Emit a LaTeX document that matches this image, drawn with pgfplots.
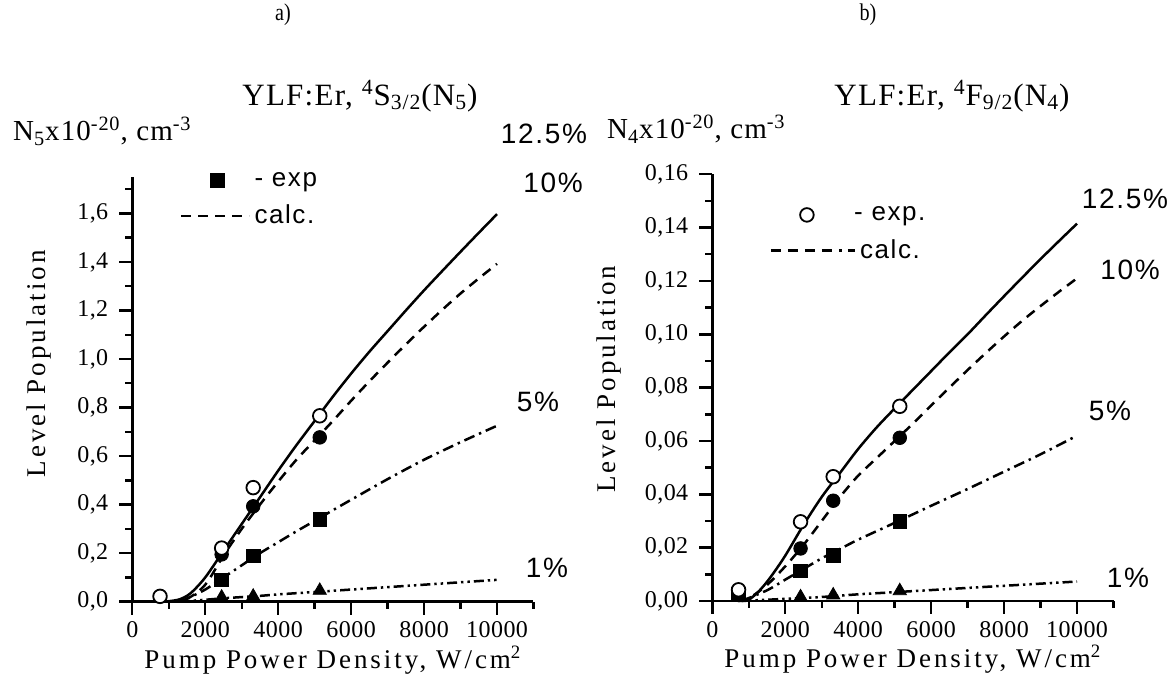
\documentclass[border=0pt]{standalone}
\usepackage{pgfplots}
\pgfplotsset{compat=1.18}
\usepackage{fontspec}
\setmainfont{Liberation Serif}
\newfontfamily\spserif[LetterSpace=11]{Liberation Serif}
\newfontfamily\tserif[LetterSpace=4]{Liberation Serif}
\newfontfamily\tickserif[LetterSpace=2]{Liberation Serif}
\newfontfamily\condserif[FakeStretch=0.84]{Liberation Serif}
\newfontfamily\spsans[LetterSpace=6]{Liberation Sans}

\pgfplotsset{
  panel/.style={
    scale only axis, width=200.6pt,
    axis x line*=bottom, axis y line*=left,
    axis line style={line width=1.4pt},
    every tick/.style={black, line width=1.2pt},
    tick align=outside,
    major tick length=6.5pt, minor tick length=3.5pt,
    xmin=0, xmax=11000,
    xtick={0,2000,4000,6000,8000,10000},
    minor xtick={1000,3000,5000,7000,9000,11000},
    scaled x ticks=false, scaled y ticks=false,
    tick label style={font=\fontsize{12}{12}\tickserif},
    y tick label style={xshift=-2pt},
    /pgf/number format/assume math mode=true,
    x tick label style={/pgf/number format/1000 sep={}},
    xlabel={\fontsize{13.5}{14}\spserif Pump Power Density, W/cm\textsuperscript{2}},
    ylabel={\fontsize{13.5}{14}\spserif Level Population},
    xlabel style={yshift=3pt},
    clip=false,
    legend style={draw=none, fill=none, font=\fontsize{13}{15}\spsans,
      row sep=4pt, legend cell align=left, inner xsep=0pt, inner ysep=0pt},
  },
  c125/.style={black, line width=1.25pt, solid, smooth},
  c10/.style={black, line width=1.25pt, smooth, dash pattern=on 5pt off 3.5pt},
  c5/.style={black, line width=1.25pt, smooth, dash pattern=on 5.5pt off 2.5pt on 1.2pt off 2.5pt},
  c1/.style={black, line width=1.25pt, smooth, dash pattern=on 5pt off 2pt on 1.2pt off 2pt on 1.2pt off 2pt},
  mo/.style={only marks, mark=*, mark size=3.4pt, mark options={fill=white, draw=black, line width=0.9pt}},
  mf/.style={only marks, mark=*, mark size=3.4pt, mark options={fill=black, draw=black}},
  ms/.style={only marks, mark=square*, mark size=3.4pt, mark options={fill=black, draw=black}},
  mt/.style={only marks, mark=triangle*, mark size=3.8pt, mark options={fill=black, draw=black}},
  legA/.style={legend image code/.code={\draw[mark repeat=2,mark phase=2,##1] plot coordinates {(0pt,0pt)(18pt,0pt)(34pt,0pt)};}},
  legB/.style={legend image code/.code={\draw[mark repeat=2,mark phase=2,##1] plot coordinates {(0pt,0pt)(18pt,0pt)(42pt,0pt)};}},
  calcline/.style={black, line width=1.25pt, dash pattern=on 5pt off 3.5pt on 5pt off 3.5pt on 5pt off 3.5pt on 5pt off 3.5pt on 1.5pt off 3pt},
}

\begin{document}
\begin{tikzpicture}
\path[use as bounding box] (0,0) rectangle (584.5pt,344.5pt);

% ---------- panel a ----------
\begin{axis}[panel, at={(66.15pt,43.65pt)}, anchor=south west,
  height=212.35pt, ymin=0, ymax=1.75,
  ytick={0,0.2,0.4,0.6,0.8,1.0,1.2,1.4,1.6},
  minor ytick={0.1,0.3,0.5,0.7,0.9,1.1,1.3,1.5,1.7},
  y tick label style={/pgf/number format/.cd, fixed, fixed zerofill, precision=1, use comma},
  ylabel style={at={(axis description cs:-0.185,0.56)}},
  legend style={at={(0.118,1.022)}, anchor=north west},
]
\addlegendimage{ms, legA}
\addlegendentry{- exp}
\addlegendimage{calcline, legA}
\addlegendentry{calc.}
\addplot[c125] coordinates {(800,0)(1000,0.002)(1300,0.01)(1600,0.035)(2000,0.10)(2500,0.21)(3000,0.32)(3500,0.43)(4000,0.54)(4500,0.645)(5000,0.745)(5500,0.845)(6000,0.94)(6500,1.03)(7000,1.115)(7500,1.2)(8000,1.283)(8500,1.363)(9000,1.442)(9500,1.52)(10000,1.597)};
\addplot[c10] coordinates {(1000,0)(1500,0.012)(2000,0.07)(2500,0.19)(3000,0.30)(3500,0.40)(4000,0.495)(4500,0.585)(5000,0.665)(5500,0.745)(6000,0.828)(6500,0.908)(7000,0.985)(7500,1.06)(8000,1.133)(8500,1.203)(9000,1.27)(9500,1.332)(10000,1.392)};
\addplot[c5] coordinates {(1300,0)(1600,0.02)(2000,0.05)(2500,0.10)(3000,0.15)(3500,0.20)(4000,0.245)(4500,0.29)(5000,0.333)(5500,0.377)(6000,0.42)(7000,0.505)(8000,0.585)(9000,0.657)(10000,0.725)};
\addplot[c1] coordinates {(1300,0)(2000,0.008)(2500,0.014)(3000,0.019)(3500,0.024)(4000,0.03)(5000,0.04)(6000,0.05)(7000,0.06)(8000,0.07)(9000,0.08)(10000,0.09)};
\addplot[mt] coordinates {(2450,0.018)(3315,0.022)(5140,0.046)};
\addplot[ms] coordinates {(2450,0.09)(3315,0.188)(5140,0.338)};
\addplot[mf] coordinates {(2450,0.195)(3315,0.393)(5140,0.677)};
\addplot[mo] coordinates {(760,0.022)(2450,0.221)(3315,0.47)(5140,0.766)};
\end{axis}

% ---------- panel b ----------
\begin{axis}[panel, at={(356.15pt,44pt)}, anchor=south west,
  height=213.35pt, ymin=0, ymax=0.16,
  ytick={0,0.02,0.04,0.06,0.08,0.10,0.12,0.14,0.16},
  minor ytick={0.01,0.03,0.05,0.07,0.09,0.11,0.13,0.15},
  y tick label style={/pgf/number format/.cd, fixed, fixed zerofill, precision=2, use comma},
  ylabel style={at={(axis description cs:-0.21,0.52)}},
  legend style={at={(0.142,0.935)}, anchor=north west},
]
\addlegendimage{mo, legB}
\addlegendentry{\hspace*{-3pt}- exp.}
\addlegendimage{calcline, legB}
\addlegendentry{calc.}
\addplot[c125] coordinates {(700,0)(1000,0.0005)(1300,0.004)(1600,0.009)(2000,0.017)(2500,0.0285)(3000,0.039)(3500,0.048)(4000,0.057)(4500,0.065)(5000,0.0722)(5500,0.0792)(6000,0.0862)(6500,0.0932)(7000,0.1)(7500,0.1072)(8000,0.1143)(8500,0.1213)(9000,0.1282)(9500,0.1349)(10000,0.1415)};
\addplot[c10] coordinates {(700,0)(1000,0.001)(1500,0.006)(2000,0.013)(2500,0.021)(3000,0.03)(3500,0.039)(4000,0.047)(4500,0.0535)(5000,0.060)(5500,0.0665)(6000,0.0733)(6500,0.08)(7000,0.0866)(7500,0.093)(8000,0.0992)(8500,0.1051)(9000,0.1106)(9500,0.1159)(10000,0.121)};
\addplot[c5] coordinates {(800,0)(1500,0.004)(2000,0.008)(2500,0.012)(3000,0.016)(3500,0.0195)(4000,0.023)(5000,0.0293)(6000,0.0357)(7000,0.042)(8000,0.0485)(9000,0.055)(10000,0.062)};
\addplot[c1] coordinates {(800,0)(2000,0.0008)(3000,0.0015)(4000,0.0025)(5000,0.0033)(6000,0.0041)(7000,0.0049)(8000,0.0057)(9000,0.0065)(10000,0.0073)};
\addplot[mt] coordinates {(2420,0.0015)(3315,0.0022)(5140,0.0038)};
\addplot[ms] coordinates {(720,0.0025)(2420,0.0113)(3315,0.0172)(5140,0.0298)};
\addplot[mf] coordinates {(720,0.003)(2420,0.0197)(3315,0.0376)(5140,0.0612)};
\addplot[mo] coordinates {(720,0.0042)(2420,0.0297)(3315,0.0466)(5140,0.073)};
\end{axis}

% ---------- texts ----------
\node[font=\fontsize{12}{12}\condserif] at (141.5pt,337pt) {a)};
\node[font=\fontsize{12}{12}\condserif] at (434pt,337pt) {b)};
\node[font=\fontsize{15.5}{16}\tserif] at (180pt,296.5pt) {YLF:Er, \textsuperscript{4}S\textsubscript{3/2}(N\textsubscript{5})};
\node[font=\fontsize{14.5}{16}\tserif, anchor=west] at (3pt,279pt) {N\textsubscript{5}x10\textsuperscript{-20}, cm\textsuperscript{-3}};
\node[font=\fontsize{15.5}{16}\tserif] at (476pt,296.5pt) {YLF:Er, \textsuperscript{4}F\textsubscript{9/2}(N\textsubscript{4})};
\node[font=\fontsize{14.5}{16}\tserif, anchor=west] at (300pt,280pt) {N\textsubscript{4}x10\textsuperscript{-20}, cm\textsuperscript{-3}};
\begin{scope}[every node/.style={font=\fontsize{14}{15}\spsans}]
\node at (272pt,277.5pt) {12.5\%};
\node at (276.5pt,253pt) {10\%};
\node at (269pt,143.5pt) {5\%};
\node at (273.5pt,60.5pt) {1\%};
\node at (562.5pt,245pt) {12.5\%};
\node at (565pt,209.5pt) {10\%};
\node at (555pt,139pt) {5\%};
\node at (564pt,55.5pt) {1\%};
\end{scope}
\end{tikzpicture}
\end{document}
